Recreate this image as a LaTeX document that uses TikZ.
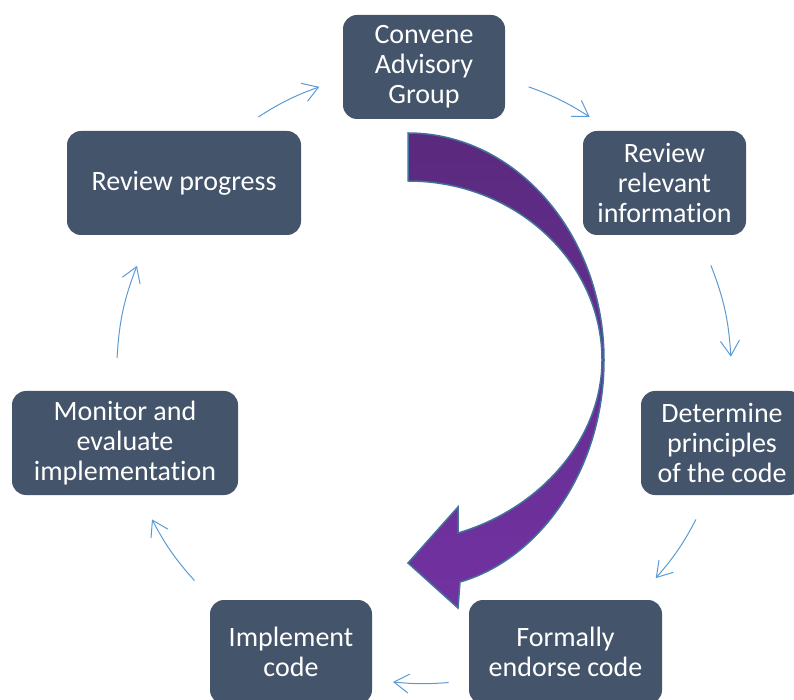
\documentclass[tikz,border=0pt]{standalone}
\usepackage{fontspec}
\setmainfont{Carlito}[Ligatures=NoCommon, RawFeature={-liga}]
\usetikzlibrary{arrows.meta}
\definecolor{boxfill}{HTML}{44546A}
\definecolor{flowblue}{HTML}{5B9BD5}
\definecolor{bigtop}{HTML}{5A2A7E}
\definecolor{bigbot}{HTML}{7232A2}
\definecolor{bigline}{HTML}{41719C}
\tikzset{
>={Straight Barb[length=15pt,width=19pt]},
stagebox/.style={rectangle, rounded corners=14pt, fill=boxfill, text=white,
  align=center, inner sep=0pt, minimum height=104pt,
  font=\fontsize{28}{30}\selectfont},
flow/.style={->, draw=flowblue, line width=1pt},
}

\begin{document}
\begin{tikzpicture}[x=1pt, y=1pt]
        \useasboundingbox (0,0) rectangle (794,699);
        \coordinate (hub) at (424,323);

        % big curved arrow
        \shade[top color=bigtop, bottom color=bigbot, draw=bigline, line width=1.5pt]
            (408,566) .. controls (516,566) and (604,464) .. (604,339)
            .. controls (604,230) and (540,140) .. (460,117)
            -- (458,91) -- (408,136) -- (458,192) -- (458,166)
            .. controls (540,190) and (602,260) .. (602,339)
            .. controls (602,438) and (515,518) .. (408,518) -- cycle;

        \node[stagebox, minimum width=162pt] (conv) at (424,632) {Convene\\Advisory\\Group};
        \node[stagebox, minimum width=163pt] (revinfo) at (664.5,516) {Review\\relevant\\information};
        \node[stagebox, minimum width=162pt] (determ) at (722,256) {Determine\\principles\\of the code};
        \node[stagebox, minimum width=193pt] (formal) at (565.5,47) {Formally\\endorse code};
        \node[stagebox, minimum width=162pt] (impl) at (291,47) {Implement\\code};
        \node[stagebox, minimum width=226pt] (monitor) at (125,256) {Monitor and\\evaluate\\implementation};
        \node[stagebox, minimum width=234pt] (revprog) at (184,516) {Review progress};

        \foreach \n/\a in {1s/122.6, 1e/109.9, 2s/70.1, 2e/57.4, 3s/21.1, 3e/3.6,
                4s/-27.8, 4e/-41.1, 5s/-85.4, 5e/-95.8, 6s/-138.3, 6e/-152.2,
                7s/176.6, 7e/159.0}
            \coordinate (c\n) at ([shift={(\a:307.5)}]hub);

        \draw[flow] (c1s) to[bend left=6.4] (c1e);
        \draw[flow] (c2s) to[bend left=6.4] (c2e);
        \draw[flow] (c3s) to[bend left=8.8] (c3e);
        \draw[flow] (c4s) to[bend left=6.6] (c4e);
        \draw[flow] (c5s) to[bend left=5.2] (c5e);
        \draw[flow] (c6s) to[bend left=7] (c6e);
        \draw[flow] (c7s) to[bend left=8.8] (c7e);
\end{tikzpicture}
\end{document}
